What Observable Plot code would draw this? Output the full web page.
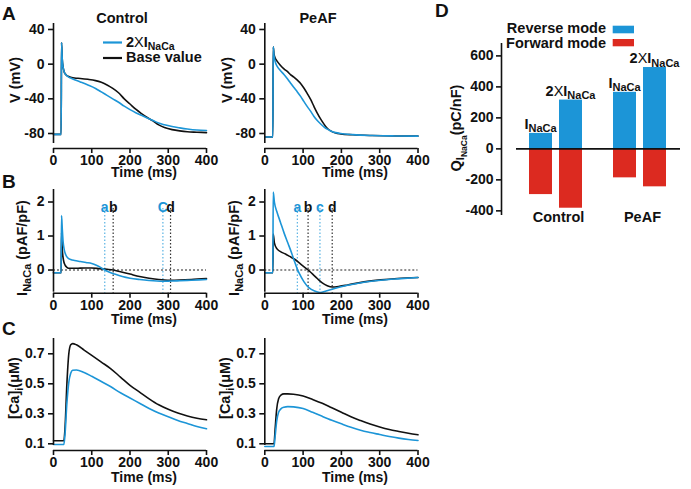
<!DOCTYPE html>
<html><head><meta charset="utf-8">
<script src="https://cdn.jsdelivr.net/npm/d3@7"></script>
<script src="https://cdn.jsdelivr.net/npm/@observablehq/plot@0.6"></script>
<style>
body{margin:0;background:#fff}
#chart{position:relative;width:691px;height:489px;background:#fff;overflow:hidden}
#chart svg{position:absolute;left:0;top:0}
</style></head><body><div id="chart"></div>
<script>
// ---------- DATA ----------
// Panel A: membrane potential (mV)
const tA_ctrl = [0,20,21,23,25,28,32,38,45,55,70,90,110,125,140,155,170,185,200,215,230,245,260,275,290,310,330,350,375,400];
const vA_ctrl_base = [-81,-81,25,5,-3,-9,-12,-14,-15,-16,-16.5,-17.5,-19,-21,-24,-28,-33,-40,-46,-52,-57,-61.5,-65.5,-70,-73,-75.5,-77,-78,-78.5,-79];
const vA_ctrl_2x = [-81,-81,25,5,-3,-9,-12,-14.5,-16,-18,-20.5,-24,-28,-32,-36,-40,-44,-48.5,-52.5,-56,-59,-62,-65,-68,-70,-72,-73.5,-74.8,-76,-76.5];
const tA_peaf = [0,21,22,24,27,32,40,50,60,67,76,85,94,102,111,120,128,137,146,155,163,172,185,198,230,280,340,400];
const vA_peaf_base = [-84,-84,20,12,7,3.5,-1,-5.5,-9,-12,-15,-18.5,-22.5,-27.5,-34,-41,-48.5,-56.5,-63.5,-69.5,-74,-77,-79.5,-80.5,-81.5,-82.3,-82.8,-83];
const vA_peaf_2x = [-84,-84,20,10,3,-2.3,-7,-12,-17.5,-21.7,-27,-32,-37.5,-43,-49,-54.5,-60,-65,-69,-72.5,-75,-77,-79,-80,-81.3,-82.3,-82.8,-83];

// Panel B: I_NaCa (pA/pF)
const tB_ctrl_base = [0,20,21,23,26,30,35,42,60,80,100,120,140,156,175,200,225,250,275,290,306,330,360,400];
const vB_ctrl_base = [-0.08,-0.08,1.1,0.6,0.3,0.15,0.08,0.05,0.05,0.06,0.06,0.04,0.02,0.0,-0.05,-0.12,-0.19,-0.24,-0.28,-0.295,-0.3,-0.295,-0.28,-0.25];
const tB_ctrl_2x = [0,20,21,23,25,28,32,37,45,55,70,85,100,112,124,134,145,160,180,200,225,250,270,286,305,330,360,400];
const vB_ctrl_2x = [-0.08,-0.08,1.6,1.2,0.85,0.6,0.45,0.36,0.31,0.28,0.25,0.22,0.19,0.14,0.07,0.0,-0.06,-0.12,-0.19,-0.24,-0.28,-0.31,-0.325,-0.33,-0.325,-0.315,-0.3,-0.28];
const tB_peaf_base = [0,21,22,25,32,41,54,65,76,93,113,125,137,150,163,176,195,216,259,303,346,400];
const vB_peaf_base = [-0.08,-0.08,1.06,0.8,0.62,0.54,0.47,0.4,0.33,0.18,0.0,-0.12,-0.25,-0.38,-0.46,-0.5,-0.48,-0.44,-0.35,-0.29,-0.25,-0.22];
const tB_peaf_2x = [0,21,22,25,32,41,50,60,70,78,85,90,102,115,130,144,160,180,216,259,303,346,400];
const vB_peaf_2x = [-0.08,-0.08,2.29,2.0,1.7,1.4,1.1,0.8,0.5,0.24,0.02,-0.1,-0.34,-0.52,-0.62,-0.66,-0.62,-0.55,-0.45,-0.36,-0.3,-0.26,-0.22];
// marker times (zero crossings a,b and minima c,d)
const bMarkT_ctrl = [134,156,286,306];
const bMarkLabel_ctrl = ["a","b","C","d"];
const bMarkT_peaf = [85,113,144,176];
const bMarkLabel_peaf = ["a","b","c","d"];
const bMarkKind = ["2x","base","2x","base"];

// Panel C: [Ca]i (uM)
const tC = [0,27,30,35,40,45,50,60,80,100,125,150,175,200,225,250,275,300,325,350,375,400];
const vC_ctrl_base = [0.12,0.12,0.2,0.5,0.7,0.76,0.768,0.76,0.725,0.69,0.645,0.6,0.545,0.49,0.445,0.4,0.36,0.33,0.305,0.285,0.27,0.26];
const vC_ctrl_2x = [0.095,0.095,0.16,0.37,0.51,0.57,0.59,0.592,0.575,0.55,0.515,0.48,0.44,0.405,0.37,0.335,0.305,0.28,0.255,0.235,0.215,0.2];
const tC_peaf = [0,24,27,31,36,42,50,60,75,100,125,150,175,200,225,250,275,300,325,350,375,400];
const vC_peaf_base = [0.10,0.10,0.2,0.33,0.4,0.425,0.433,0.433,0.43,0.418,0.395,0.37,0.34,0.31,0.28,0.255,0.232,0.212,0.195,0.182,0.17,0.16];
const vC_peaf_2x = [0.082,0.082,0.15,0.25,0.31,0.333,0.344,0.348,0.346,0.335,0.31,0.283,0.257,0.233,0.21,0.19,0.175,0.162,0.149,0.138,0.129,0.122];

// Panel D: Q_INaCa (pC/nF)
const dGroup = ["Control","Control","PeAF","PeAF"];
const dBar = ["INaCa","2XINaCa","INaCa","2XINaCa"];
const dReverse = [100,315,365,525];
const dForward = [-295,-383,-187,-245];

const timeTicks = [0,100,200,300,400];
const aTicks = [-80,-40,0,40];
const bTicks = [0,1,2];
const cTicks = [0.1,0.3,0.5,0.7];
const dTicks = [-400,-200,0,200,400,600];

// ---------- STYLE ----------
const W = 691, H = 489;
const BLUE = "#1c95d7", BLACK = "#111", RED = "#dc2a20";
const FONT = "'Liberation Sans', Arial, Helvetica, sans-serif";
const svgStyle = {background:"transparent", fontFamily:FONT, fontSize:"14px", fontWeight:"bold", color:"#111", overflow:"visible"};
const rows = (ts, vs) => ts.map((t,i) => ({t, v: vs[i]}));

function panel({left, right, top, bottom, yDomain, yTicks, yFmt, gap, marks}) {
  return Plot.plot({
    width: W, height: H,
    marginLeft: left, marginRight: W - right, marginTop: top, marginBottom: H - bottom,
    x: {domain: [0, 400]},
    y: {domain: yDomain},
    style: svgStyle,
    marks: [
      ...marks,
      Plot.ruleX([0], {strokeWidth: 1.6, insetBottom: gap}),
      Plot.ruleY([yDomain[0]], {strokeWidth: 1.6}),
      Plot.axisY({ticks: yTicks, tickSize: 5, tickPadding: 4, tickFormat: yFmt, strokeWidth: 1.6, label: null}),
      Plot.axisX({ticks: timeTicks, tickSize: 5, tickPadding: 2, tickFormat: d => String(d), strokeWidth: 1.6, label: null})
    ]
  });
}
const lineMarks = (base, twox) => [
  Plot.line(base, {x:"t", y:"v", stroke: BLACK, strokeWidth: 1.6, curve: "monotone-x"}),
  Plot.line(twox, {x:"t", y:"v", stroke: BLUE, strokeWidth: 1.6, curve: "monotone-x"})
];
const markerMarks = (ts, labels) => {
  const data = ts.map((t,i) => ({t, label: labels[i], kind: bMarkKind[i]}));
  return [
    Plot.ruleY([0], {stroke:"#222", strokeWidth:1.2, strokeDasharray:"2,2"}),
    Plot.ruleX(data, {x:"t", insetTop: 19, stroke: d => d.kind === "2x" ? "#5ab3e3" : "#333", strokeWidth: 1.2, strokeDasharray: "1.5,2"}),
    Plot.text(data, {x:"t", text:"label", frameAnchor:"top", dy: 13, fontSize: 14, fill: d => d.kind === "2x" ? BLUE : BLACK})
  ];
};

const CTRL = {left: 53, right: 206};
const PEAF = {left: 264.3, right: 417.5};
const A_Y = {top: 23, bottom: 148, yDomain: [-97.3, 46.9], yTicks: aTicks, yFmt: d => String(d), gap: 5};
const B_Y = {top: 189, bottom: 292.7, yDomain: [-0.682, 2.368], yTicks: bTicks, yFmt: d => String(d), gap: 1};
const C_Y = {top: 338, bottom: 450, yDomain: [0.0553, 0.802], yTicks: cTicks, yFmt: d => d.toFixed(1), gap: 5};

const plots = [
  panel({...CTRL, ...A_Y, marks: lineMarks(rows(tA_ctrl, vA_ctrl_base), rows(tA_ctrl, vA_ctrl_2x))}),
  panel({...PEAF, ...A_Y, marks: lineMarks(rows(tA_peaf, vA_peaf_base), rows(tA_peaf, vA_peaf_2x))}),
  panel({...CTRL, ...B_Y, marks: [...markerMarks(bMarkT_ctrl, bMarkLabel_ctrl), ...lineMarks(rows(tB_ctrl_base, vB_ctrl_base), rows(tB_ctrl_2x, vB_ctrl_2x))]}),
  panel({...PEAF, ...B_Y, marks: [...markerMarks(bMarkT_peaf, bMarkLabel_peaf), ...lineMarks(rows(tB_peaf_base, vB_peaf_base), rows(tB_peaf_2x, vB_peaf_2x))]}),
  panel({...CTRL, ...C_Y, marks: lineMarks(rows(tC, vC_ctrl_base), rows(tC, vC_ctrl_2x))}),
  panel({...PEAF, ...C_Y, marks: lineMarks(rows(tC_peaf, vC_peaf_base), rows(tC_peaf, vC_peaf_2x))})
];

// Panel D
const dRows = dGroup.map((g,i) => ({group: g, bar: dBar[i], reverse: dReverse[i], forward: dForward[i]}));
const D_Y = {top: 43, bottom: 215, domain: [-430, 680]};
function barsPlot(group, left, right) {
  return Plot.plot({
    width: W, height: H,
    marginLeft: left, marginRight: W - right, marginTop: D_Y.top, marginBottom: H - D_Y.bottom,
    x: {domain: ["INaCa","2XINaCa"], paddingInner: 7/30, paddingOuter: 0, axis: null},
    y: {domain: D_Y.domain, axis: null},
    style: svgStyle,
    marks: [
      Plot.barY(dRows.filter(d => d.group === group), {x:"bar", y1: 0, y2: "reverse", fill: BLUE, inset: 0}),
      Plot.barY(dRows.filter(d => d.group === group), {x:"bar", y1: 0, y2: "forward", fill: RED, inset: 0})
    ]
  });
}
const barsCtrl = barsPlot("Control", 529.3, 582.3);
const barsPeaf = barsPlot("PeAF", 612.7, 666);
const dAxis = Plot.plot({
  width: W, height: H,
  marginLeft: 501, marginRight: 11, marginTop: D_Y.top, marginBottom: H - D_Y.bottom,
  x: {domain: [0,1], axis: null},
  y: {domain: D_Y.domain},
  style: svgStyle,
  marks: [
    Plot.ruleX([0], {strokeWidth: 1.6}),
    Plot.ruleY([0], {insetLeft: 15, strokeWidth: 1.6}),
    Plot.axisY({ticks: dTicks, tickSize: 5, tickPadding: 3, tickFormat: d => String(d), strokeWidth: 1.6, label: null})
  ]
});

const chart = document.getElementById("chart");
[...plots, barsCtrl, barsPeaf, dAxis].forEach(p => chart.appendChild(p));

// ---------- TEXT OVERLAY ----------
const ov = d3.create("svg").attr("width", W).attr("height", H)
  .style("font-family", FONT).style("font-weight", "bold").style("fill", "#111");
function rich(x, y, parts, {anchor = "start", size = 14.5, rotate = false} = {}) {
  const t = ov.append("text").attr("text-anchor", anchor).attr("font-size", size);
  if (rotate) t.attr("transform", `translate(${x},${y}) rotate(-90)`);
  else t.attr("x", x).attr("y", y);
  let shift = 0;
  for (const p of parts) {
    const s = t.append("tspan").text(p.text);
    if (p.size) s.attr("font-size", p.size);
    if (p.weight) s.attr("font-weight", p.weight);
    if (p.fill) s.attr("fill", p.fill);
    const want = p.shift || 0;
    if (want !== shift) s.attr("dy", want - shift);
    shift = want;
  }
  return t;
}
const SUB = {size: 11, shift: 3.5};
// panel letters
[["A",2,20],["B",2,188],["C",2,335],["D",435,17]].forEach(([l,x,y]) => rich(x, y, [{text:l}], {size: 19}));
// titles
rich(122, 23, [{text:"Control"}], {anchor:"middle", size: 14.5});
rich(318, 23, [{text:"PeAF"}], {anchor:"middle", size: 14.5});
// legend A
ov.append("line").attr("x1",103).attr("x2",122).attr("y1",42.5).attr("y2",42.5).attr("stroke",BLUE).attr("stroke-width",2.2);
ov.append("line").attr("x1",103).attr("x2",122).attr("y1",58).attr("y2",58).attr("stroke",BLACK).attr("stroke-width",2.2);
rich(126, 47, [{text:"2"},{text:"X", weight:"normal"},{text:"I"},{text:"NaCa", size: 10.5, shift: 3}]);
rich(126, 62, [{text:"Base value"}]);
// y labels
rich(20, 80, [{text:"V (mV)"}], {anchor:"middle", rotate:true});
rich(232, 80, [{text:"V (mV)"}], {anchor:"middle", rotate:true});
rich(27, 248, [{text:"I"},{text:"NaCa", ...SUB},{text:" (pAF/pF)"}], {anchor:"middle", rotate:true});
rich(239, 248, [{text:"I"},{text:"NaCa", ...SUB},{text:" (pAF/pF)"}], {anchor:"middle", rotate:true});
rich(19, 388, [{text:"[Ca]"},{text:"i", ...SUB},{text:"(\u03BCM)"}], {anchor:"middle", rotate:true});
rich(230, 388, [{text:"[Ca]"},{text:"i", ...SUB},{text:"(\u03BCM)"}], {anchor:"middle", rotate:true});
rich(461, 128, [{text:"Q"},{text:"I", size: 11, shift: 3},{text:"NaCa", size: 8.5, shift: 6},{text:"(pC/nF)"}], {anchor:"middle", rotate:true});
// x labels
[177, 324, 482].forEach(y => {
  rich(144, y, [{text:"Time (ms)"}], {anchor:"middle", size: 14});
  rich(355, y, [{text:"Time (ms)"}], {anchor:"middle", size: 14});
});
// legend D
rich(606, 32.7, [{text:"Reverse mode"}], {anchor:"end"});
rich(606, 47.7, [{text:"Forward mode"}], {anchor:"end"});
ov.append("rect").attr("x",612.7).attr("y",25.7).attr("width",21.3).attr("height",7.6).attr("fill",BLUE);
ov.append("rect").attr("x",612.7).attr("y",39).attr("width",21.3).attr("height",7.3).attr("fill",RED);
// bar labels via the plots' scales
[[barsCtrl,"Control"],[barsPeaf,"PeAF"]].forEach(([p, g]) => {
  const xs = p.scale("x"), ys = p.scale("y");
  const bw = xs.bandwidth;
  dRows.filter(d => d.group === g).forEach(d => {
    const cx = xs.apply(d.bar) + bw / 2;
    const parts = d.bar === "INaCa" ? [{text:"I"},{text:"NaCa", ...SUB}] : [{text:"2"},{text:"X", weight:"normal"},{text:"I"},{text:"NaCa", ...SUB}];
    rich(cx, ys.apply(d.reverse) - 4, parts, {anchor:"middle"});
  });
  const gc = (xs.apply("INaCa") + xs.apply("2XINaCa") + bw) / 2;
  rich(gc + 3, 221.7, [{text:g}], {anchor:"middle"});
});
chart.appendChild(ov.node());
</script></body></html>
